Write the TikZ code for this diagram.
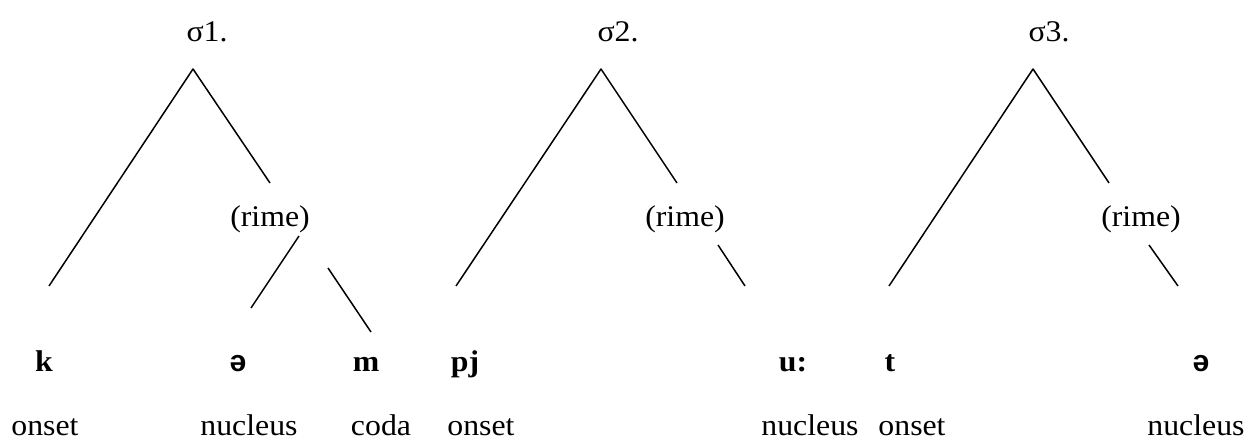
\documentclass[tikz,border=0pt]{standalone}
\usepackage{fontspec}
\setmainfont[FakeStretch=1.06]{Liberation Serif}
\newfontfamily\ipasans{Liberation Sans}
\usepackage{tikz}

\begin{document}
\begin{tikzpicture}[x=0.4pt, y=-0.4pt, line join=round,
    every node/.style={inner sep=0pt, anchor=base, font=\fontsize{12}{14}\selectfont},
    seg/.style={line width=0.6pt},
    phon/.style={font=\fontsize{12}{14}\selectfont\bfseries}]
  \useasboundingbox (0,0) rectangle (1245,438);
  % syllable 1
  \coordinate (A1) at (193,69);
  \coordinate (L1) at (49,286);
  \coordinate (R1) at (270,183);
  \coordinate (N1a) at (299,236);
  \coordinate (N1b) at (251,308);
  \coordinate (C1a) at (328,268);
  \coordinate (C1b) at (371,332);
  \node (sig1) at (207,42) {σ1.};
  \node (rime1) at (270,227) {(rime)};
  \draw[seg] (L1) -- (A1) -- (R1);
  \draw[seg] (N1a) -- (N1b);
  \draw[seg] (C1a) -- (C1b);
  \node[phon] (k) at (44,372) {k};
  \node[phon] (schwa1) at (238,372) {\ipasans ə};
  \node[phon] (m) at (366,372) {m};
  \node (ons1) at (45,435) {onset};
  \node (nuc1) at (249,435) {nucleus};
  \node (coda1) at (381,435) {coda};
  % syllable 2
  \coordinate (A2) at (601,69);
  \coordinate (L2) at (456,286);
  \coordinate (R2) at (677,183);
  \coordinate (N2a) at (718,245);
  \coordinate (N2b) at (745,286);
  \node (sig2) at (618,42) {σ2.};
  \node (rime2) at (685,227) {(rime)};
  \draw[seg] (L2) -- (A2) -- (R2);
  \draw[seg] (N2a) -- (N2b);
  \node[phon] (pj) at (465,372) {pj};
  \node[phon] (uu) at (793,372) {u:};
  \node (ons2) at (481,435) {onset};
  \node (nuc2) at (810,435) {nucleus};
  % syllable 3
  \coordinate (A3) at (1033,69);
  \coordinate (L3) at (889,286);
  \coordinate (R3) at (1109,183);
  \coordinate (N3a) at (1149,245);
  \coordinate (N3b) at (1178,286);
  \node (sig3) at (1049,42) {σ3.};
  \node (rime3) at (1141,227) {(rime)};
  \draw[seg] (L3) -- (A3) -- (R3);
  \draw[seg] (N3a) -- (N3b);
  \node[phon] (t) at (890,372) {t};
  \node[phon] (schwa3) at (1201,372) {\ipasans ə};
  \node (ons3) at (912,435) {onset};
  \node (nuc3) at (1196,435) {nucleus};
\end{tikzpicture}
\end{document}
